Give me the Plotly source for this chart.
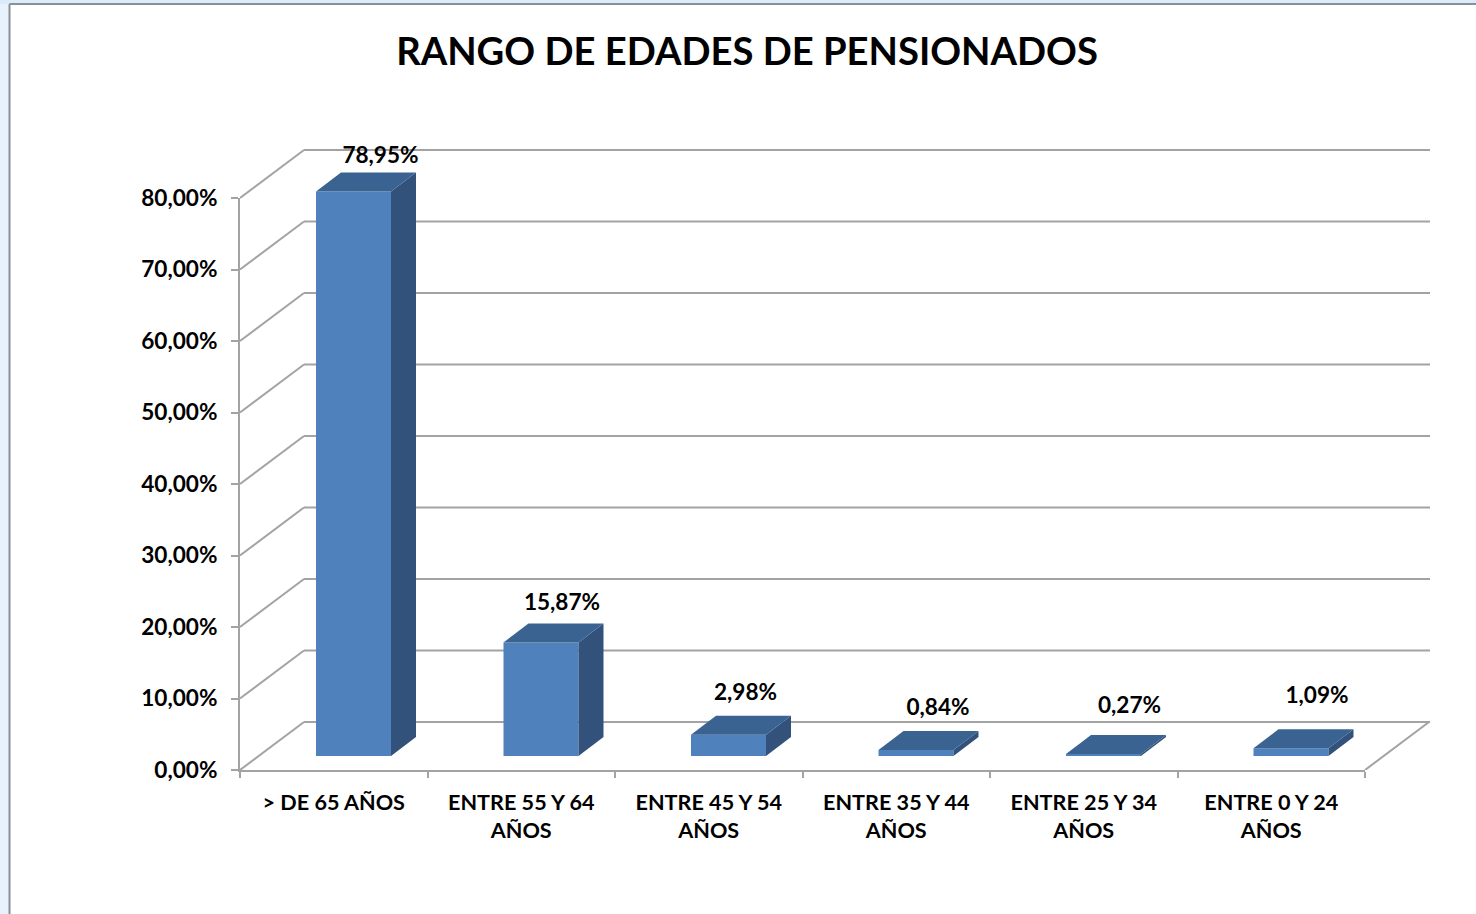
import plotly.graph_objects as go

# ---- data ----
CATEGORIES = ["> DE 65 AÑOS", "ENTRE 55 Y 64<br>AÑOS", "ENTRE 45 Y 54<br>AÑOS",
              "ENTRE 35 Y 44<br>AÑOS", "ENTRE 25 Y 34<br>AÑOS", "ENTRE 0 Y 24<br>AÑOS"]
VALUES = [78.95, 15.87, 2.98, 0.84, 0.27, 1.09]
Y_TICKS = [0, 10, 20, 30, 40, 50, 60, 70, 80]
TITLE = "RANGO DE EDADES DE PENSIONADOS"

# ---- geometry of the pseudo-3D box (in pixels, converted to axis units) ----
W, H = 1476, 914
LEFT, RIGHT, TOP, BOTTOM = 240, 1432, 140, 770
FRONT_RIGHT, FRONT_TOP = 1365, 198
WALL_RIGHT = 1430
PLOT_W, PLOT_H = RIGHT - LEFT, BOTTOM - TOP
PX_PER_CAT = (FRONT_RIGHT - LEFT) / len(VALUES)
PX_PER_PCT = (BOTTOM - FRONT_TOP) / 80
WALL_DX = 64 / PX_PER_CAT
WALL_DY = 48 / PX_PER_PCT
BAR_X0 = 76 / PX_PER_CAT          # inset of the bar inside its category
BAR_W = 75 / PX_PER_CAT
BAR_BASE = 14 / PX_PER_PCT
BAR_DX = 25 / PX_PER_CAT
BAR_DY = 19 / PX_PER_PCT
LABEL_DX = [27, 21, 17, 22, 26, 26]      # px from bar centre
LABEL_DY = [34, 38, 40, 41, 47, 51]      # px above front-top edge

GRID = "#A3A3A3"
FRONT, TOPC, SIDE = "#4F81BD", "#3B6391", "#32527B"
FONT = "Lato"
Y_TICK_SIZE = 22.6
X_TICK_SIZE = 21.6
LABEL_SIZE = 22.6


def fmt(v):
    return f"{v:.2f}".replace(".", ",") + "%"


def px(x, y):
    """Page pixels to plot-area 'paper' fractions."""
    return (x - LEFT) / PLOT_W, (BOTTOM - y) / PLOT_H


fig = go.Figure()

# front faces
fig.add_trace(go.Bar(
    x=[i + BAR_X0 + BAR_W / 2 for i in range(len(VALUES))],
    y=VALUES, base=[BAR_BASE] * len(VALUES), width=BAR_W,
    marker=dict(color=FRONT, line=dict(width=0)),
    hoverinfo="skip", showlegend=False))

# top and side faces
for i, v in enumerate(VALUES):
    x0 = i + BAR_X0
    x1 = x0 + BAR_W
    top = BAR_BASE + v
    fig.add_trace(go.Scatter(
        x=[x1, x1 + BAR_DX, x1 + BAR_DX, x1, x1],
        y=[BAR_BASE, BAR_BASE + BAR_DY, top + BAR_DY, top, BAR_BASE],
        fill="toself", fillcolor=SIDE, mode="lines", line=dict(width=0),
        hoverinfo="skip", showlegend=False))
    fig.add_trace(go.Scatter(
        x=[x0, x1, x1 + BAR_DX, x0 + BAR_DX, x0],
        y=[top, top, top + BAR_DY, top + BAR_DY, top],
        fill="toself", fillcolor=TOPC, mode="lines", line=dict(width=0),
        hoverinfo="skip", showlegend=False))

# value labels
fig.add_trace(go.Scatter(
    x=[i + BAR_X0 + BAR_W / 2 + LABEL_DX[i] / PX_PER_CAT for i in range(len(VALUES))],
    y=[BAR_BASE + v + LABEL_DY[i] / PX_PER_PCT for i, v in enumerate(VALUES)],
    mode="text", text=[fmt(v) for v in VALUES], textposition="middle center",
    textfont=dict(family=FONT, size=LABEL_SIZE, color="black", weight=700),
    cliponaxis=False, hoverinfo="skip", showlegend=False))

# visible front axes carry a hidden helper trace
fig.add_trace(go.Scatter(x=[0, len(VALUES)], y=[0, 80], xaxis="x2", yaxis="y2",
                         mode="markers", marker=dict(opacity=0, size=1),
                         hoverinfo="skip", showlegend=False))

shapes = []
line = dict(color=GRID, width=2)

# window frame around the pasted chart
x0, y0 = px(0, 0)
x1, y1 = px(W, H)
fx, fy = px(9.5, 4)
shapes.append(dict(type="rect", xref="paper", yref="paper", layer="below",
                   x0=x0, x1=fx, y0=y1, y1=y0, fillcolor="#E8F2FC", line=dict(width=0)))
shapes.append(dict(type="rect", xref="paper", yref="paper", layer="below",
                   x0=x0, x1=x1, y0=fy, y1=y0, fillcolor="#DCEBFA", line=dict(width=0)))
shapes.append(dict(type="line", xref="paper", yref="paper", layer="below",
                   x0=fx, x1=fx, y0=y1, y1=fy, line=dict(color="#8A9096", width=2)))
shapes.append(dict(type="line", xref="paper", yref="paper", layer="below",
                   x0=fx, x1=x1, y0=fy, y1=fy, line=dict(color="#8A9096", width=2)))

# back wall gridlines and left wall diagonals
for t in Y_TICKS:
    shapes.append(dict(type="line", xref="x", yref="y", layer="below", line=line,
                       x0=WALL_DX, x1=(WALL_RIGHT - LEFT) / PX_PER_CAT,
                       y0=t + WALL_DY, y1=t + WALL_DY))
    shapes.append(dict(type="line", xref="x", yref="y", layer="below", line=line,
                       x0=0, x1=WALL_DX, y0=t, y1=t + WALL_DY))
# right floor edge
shapes.append(dict(type="line", xref="x", yref="y", layer="below", line=line,
                   x0=len(VALUES), x1=len(VALUES) + WALL_DX, y0=0, y1=WALL_DY))

fig.update_layout(
    width=W, height=H, autosize=False,
    paper_bgcolor="white", plot_bgcolor="rgba(0,0,0,0)",
    margin=dict(l=LEFT, r=W - RIGHT, t=TOP, b=H - BOTTOM, pad=0),
    showlegend=False, shapes=shapes,
    title=dict(text=TITLE, x=747 / W, xanchor="center", y=1 - 52 / H, yanchor="middle",
               font=dict(family=FONT, size=38.2, color="black", weight=700)),
    xaxis=dict(range=[0, PLOT_W / PX_PER_CAT], visible=False, fixedrange=True),
    yaxis=dict(range=[0, PLOT_H / PX_PER_PCT], visible=False, fixedrange=True),
    xaxis2=dict(domain=[0, (FRONT_RIGHT - LEFT) / PLOT_W], range=[0, len(VALUES)], anchor="y2",
                showgrid=False, zeroline=False, showline=True, linecolor=GRID, linewidth=2,
                tickmode="array", tickvals=[i + 0.5 for i in range(len(VALUES))],
                ticktext=CATEGORIES, ticks="", tickangle=0,
                tickfont=dict(family=FONT, size=X_TICK_SIZE, color="black", weight=700),
                ticklabelstandoff=12,
                minor=dict(tickmode="array", tickvals=list(range(len(VALUES) + 1)),
                           ticks="outside", ticklen=6, tickwidth=2, tickcolor=GRID),
                fixedrange=True),
    yaxis2=dict(domain=[0, (BOTTOM - FRONT_TOP) / PLOT_H], range=[0, 80], anchor="x2",
                showgrid=False, zeroline=False, showline=True, linecolor=GRID, linewidth=2,
                tickmode="array", tickvals=Y_TICKS, ticktext=[fmt(t) for t in Y_TICKS],
                ticks="outside", ticklen=7, tickwidth=2, tickcolor=GRID,
                tickfont=dict(family=FONT, size=Y_TICK_SIZE, color="black", weight=700),
                ticklabelstandoff=9, fixedrange=True),
)

fig.write_html("out.html", config=dict(displayModeBar=False),
               post_script="document.body.style.margin='0';document.body.style.overflow='hidden';")
